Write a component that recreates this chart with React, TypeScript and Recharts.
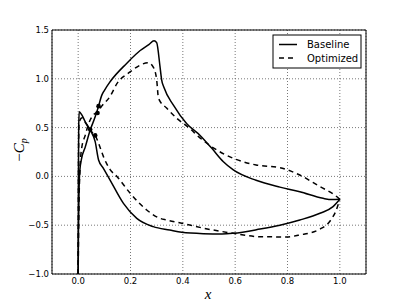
import { ComposedChart, Line, Scatter, XAxis, YAxis, CartesianGrid, ReferenceArea } from "recharts";

// Baseline, upper surface
const baseUpperX = [0, 0.001, 0.003, 0.006, 0.012, 0.027, 0.046, 0.065, 0.078, 0.09, 0.1, 0.122, 0.186, 0.237, 0.27, 0.29, 0.3, 0.313, 0.319, 0.328, 0.364, 0.415, 0.466, 0.51, 0.555, 0.593, 0.68, 0.771, 0.847, 0.936, 0.97, 1.0];
const baseUpperY = [-1.0, -0.6, -0.2, 0.05, 0.17, 0.3, 0.475, 0.61, 0.72, 0.83, 0.88, 0.97, 1.16, 1.29, 1.35, 1.39, 1.37, 1.12, 0.99, 0.91, 0.73, 0.54, 0.42, 0.29, 0.15, 0.066, -0.04, -0.11, -0.157, -0.225, -0.237, -0.235];

// Baseline, lower surface
const baseLowerX = [0, 0.001, 0.002, 0.004, 0.014, 0.027, 0.046, 0.065, 0.078, 0.097, 0.122, 0.173, 0.224, 0.287, 0.35, 0.396, 0.478, 0.55, 0.593, 0.695, 0.771, 0.847, 0.924, 0.974, 1.0];
const baseLowerY = [-1.0, 0.0, 0.5, 0.663, 0.63, 0.56, 0.475, 0.356, 0.168, 0.08, -0.037, -0.276, -0.43, -0.515, -0.55, -0.573, -0.587, -0.59, -0.583, -0.54, -0.5, -0.447, -0.378, -0.31, -0.235];

// Optimized, upper surface
const optUpperX = [0, 0.003, 0.008, 0.014, 0.027, 0.04, 0.058, 0.074, 0.09, 0.122, 0.148, 0.198, 0.237, 0.268, 0.287, 0.3, 0.307, 0.338, 0.377, 0.427, 0.459, 0.53, 0.593, 0.68, 0.771, 0.847, 0.924, 0.98, 1.0];
const optUpperY = [-1.0, -0.3, 0.12, 0.3, 0.42, 0.54, 0.63, 0.66, 0.72, 0.82, 0.95, 1.07, 1.14, 1.165, 1.12, 0.99, 0.8, 0.7, 0.595, 0.49, 0.41, 0.27, 0.185, 0.117, 0.09, 0.014, -0.105, -0.19, -0.235];

// Optimized, lower surface
const optLowerX = [0, 0.001, 0.003, 0.015, 0.03, 0.05, 0.065, 0.078, 0.097, 0.122, 0.148, 0.198, 0.262, 0.313, 0.338, 0.396, 0.478, 0.593, 0.695, 0.797, 0.847, 0.924, 0.962, 0.987, 1.0];
const optLowerY = [-1.0, 0.0, 0.55, 0.6, 0.54, 0.46, 0.42, 0.34, 0.2, 0.07, 0.0, -0.17, -0.344, -0.43, -0.447, -0.48, -0.53, -0.583, -0.618, -0.62, -0.6, -0.54, -0.46, -0.34, -0.235];

// marker dots near the leading edge
const dotX = [0.078, 0.074, 0.046, 0.065];
const dotY = [0.72, 0.65, 0.48, 0.42];

const xTicks = [0, 0.2, 0.4, 0.6, 0.8, 1.0];
const yTicks = [-1.0, -0.5, 0.0, 0.5, 1.0, 1.5];

const zip = (xs: number[], ys: number[]) => xs.map((x, i) => ({ x, y: ys[i] }));

const fmt = (v: number) => v.toFixed(1).replace("-", "\u2212");

const tickStyle = { fontSize: 8.5, fill: "#000", fontFamily: "DejaVu Sans" };

export default function App() {
  return (
    <div style={{ position: "absolute", left: 0, top: 0, width: 407, height: 305, background: "#fff" }}>
      <ComposedChart width={407} height={305} margin={{ top: 30, right: 41, bottom: 1, left: 0 }}>
        <CartesianGrid stroke="#555" strokeWidth={0.8} strokeDasharray="1 2" />
        <XAxis
          dataKey="x"
          type="number"
          domain={[-0.1, 1.1]}
          ticks={xTicks}
          tickFormatter={fmt}
          height={30}
          tickLine={false}
          tickSize={2}
          tickMargin={2}
          axisLine={false}
          tick={tickStyle}
          allowDataOverflow
        />
        <YAxis
          dataKey="y"
          type="number"
          domain={[-1, 1.5]}
          ticks={yTicks}
          tickFormatter={fmt}
          width={52}
          tickLine={false}
          tickSize={2}
          tickMargin={1}
          axisLine={false}
          tick={tickStyle}
          allowDataOverflow
        />
        <ReferenceArea x1={-0.1} x2={1.1} y1={-1} y2={1.5} fill="none" fillOpacity={0} stroke="#000" strokeWidth={1} />
        <Line data={zip(baseUpperX, baseUpperY)} dataKey="y" type="monotoneX" stroke="#000" strokeWidth={1.5} dot={false} isAnimationActive={false} />
        <Line data={zip(baseLowerX, baseLowerY)} dataKey="y" type="monotoneX" stroke="#000" strokeWidth={1.5} dot={false} isAnimationActive={false} />
        <Line data={zip(optUpperX, optUpperY)} dataKey="y" type="monotoneX" stroke="#000" strokeWidth={1.5} strokeDasharray="5 4" dot={false} isAnimationActive={false} />
        <Line data={zip(optLowerX, optLowerY)} dataKey="y" type="monotoneX" stroke="#000" strokeWidth={1.5} strokeDasharray="5 4" dot={false} isAnimationActive={false} />
        <Scatter data={zip(dotX, dotY)} dataKey="y" fill="#000" shape={(p: any) => <circle cx={p.cx} cy={p.cy} r={2.3} fill="#000" />} isAnimationActive={false} />
      </ComposedChart>
      <svg width={407} height={305} style={{ position: "absolute", left: 0, top: 0, pointerEvents: "none" }}>
        <g>
          <rect x={273} y={35} width={88} height={33} fill="#fff" stroke="#000" strokeWidth={1} />
          <line x1={279} x2={297} y1={44.5} y2={44.5} stroke="#000" strokeWidth={1.5} />
          <line x1={279} x2={297} y1={58} y2={58} stroke="#000" strokeWidth={1.5} strokeDasharray="5 4" />
          <text x={307} y={48} fontSize={10} fontFamily="DejaVu Sans" fill="#000">Baseline</text>
          <text x={307} y={61.5} fontSize={10} fontFamily="DejaVu Sans" fill="#000">Optimized</text>
        </g>
        <text x={208} y={299} fontSize={15} fontFamily="Liberation Serif" fontStyle="italic" textAnchor="middle" fill="#000">x</text>
        <text transform="translate(24,150) rotate(-90)" fontSize={15} fontFamily="Liberation Serif" textAnchor="middle" fill="#000">
          <tspan>{"\u2212"}</tspan>
          <tspan fontStyle="italic">C</tspan>
          <tspan fontStyle="italic" fontSize={10} dy={3}>p</tspan>
        </text>
      </svg>
    </div>
  );
}
